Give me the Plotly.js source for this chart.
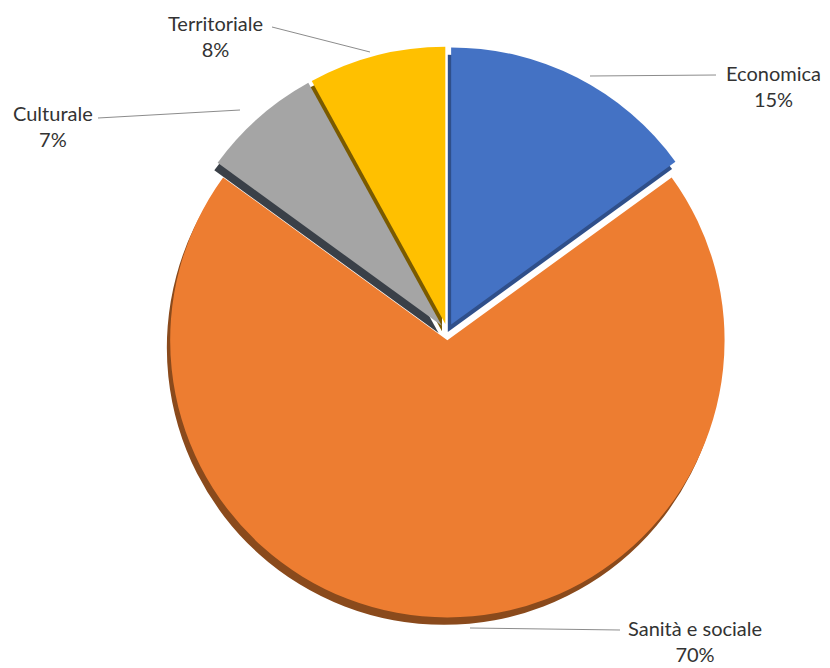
<!DOCTYPE html>
<html><head><meta charset="utf-8">
<script src="https://cdn.plot.ly/plotly-3.0.1.min.js"></script>
<style>body{margin:0;background:#fff}#chart{width:830px;height:668px}</style>
</head><body><div id="chart"></div>
<script>
const categories = ["Economica", "Sanità e sociale", "Culturale", "Territoriale"];
const values = [15, 70, 7, 8];
const colors = ["#4472C4", "#ED7D31", "#A5A5A5", "#FFC000"];
const shadowColors = ["#2F4F8A", "#8A4A1C", "#3A4048", "#7A5A00"];
const pulls = [0.03, 0.03, 0.03, 0.03];

const W = 830, H = 668;
const px = x => x / W, py = y => 1 - y / H;

// label positions (px) and leader-line segments
const labelPos = [[773, 86], [695, 641], [53, 126], [215, 36]];
const leaders = [
  [[716, 75], [590, 76]],
  [[620, 630], [470, 628]],
  [[98, 118], [240, 110]],
  [[272, 27], [370, 52]]
];

const dom = {x: [0.195, 0.883], y: [0.066, 0.94]};

const shadow = {
  type: "pie", values: values, labels: categories, sort: false, direction: "clockwise", rotation: 0,
  pull: pulls, marker: {colors: shadowColors, line: {color: "rgba(0,0,0,0)", width: 0}},
  textinfo: "none", hoverinfo: "skip", showlegend: false,
  domain: {x: [dom.x[0] - 0.004, dom.x[1] - 0.004], y: [dom.y[0] - 0.011, dom.y[1] - 0.011]}
};
const pie = {
  type: "pie", values: values, labels: categories, sort: false, direction: "clockwise", rotation: 0,
  pull: pulls, marker: {colors: colors, line: {color: "rgba(0,0,0,0)", width: 0}},
  textinfo: "none", showlegend: false, domain: dom
};

const annotations = categories.map((c, i) => ({
  xref: "paper", yref: "paper", x: px(labelPos[i][0]), y: py(labelPos[i][1]),
  text: c + "<br>" + values[i] + "%", showarrow: false,
  font: {family: "Lato, 'Open Sans', sans-serif", size: 20, color: "#333333"},
  align: "center", xanchor: "center", yanchor: "middle"
}));
const shapes = leaders.map(l => ({
  type: "line", xref: "paper", yref: "paper",
  x0: px(l[0][0]), y0: py(l[0][1]), x1: px(l[1][0]), y1: py(l[1][1]),
  line: {color: "#8C8C8C", width: 1}
}));

Plotly.newPlot("chart", [shadow, pie], {
  width: W, height: H, margin: {l: 0, r: 0, t: 0, b: 0},
  paper_bgcolor: "#ffffff", showlegend: false,
  annotations: annotations, shapes: shapes
}, {displayModeBar: false, staticPlot: true});
</script></body></html>
